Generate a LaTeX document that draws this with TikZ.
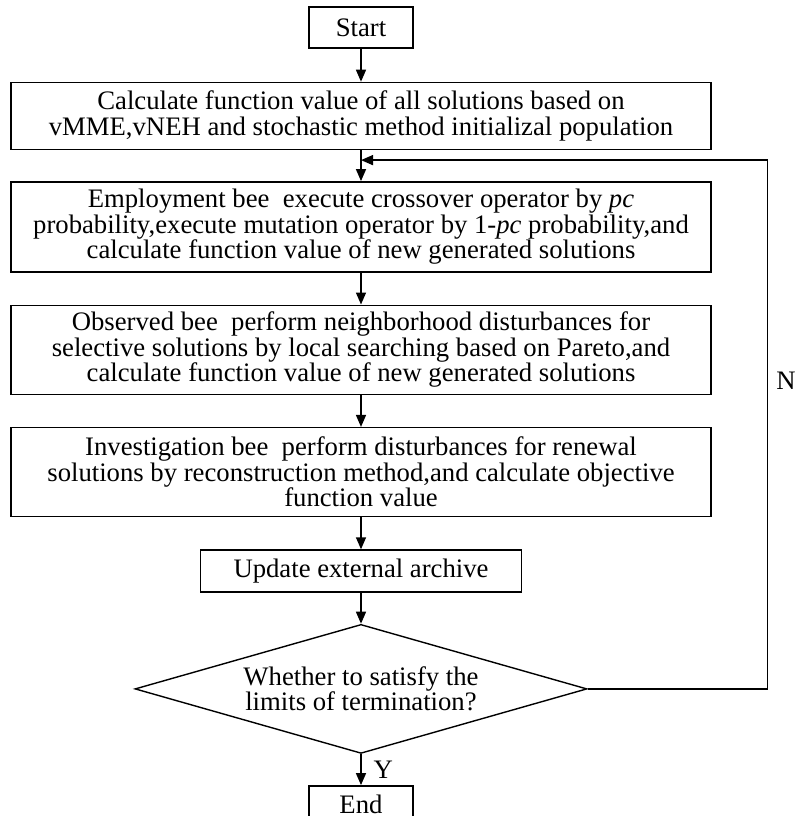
\documentclass[tikz,border=0pt]{standalone}
\usepackage{fontspec}
\setmainfont{Liberation Serif}
\usetikzlibrary{calc,positioning,shapes.geometric,arrows.meta}
\tikzset{
	txt/.style={font=\fontsize{13.35pt}{12.8pt}\selectfont},
	small/.style={draw,rectangle,txt,line width=0.7pt,minimum width=52pt,
		minimum height=20.5pt,inner ysep=1pt},
	wide/.style={small,minimum width=350pt,minimum height=44.5pt,align=center},
	decide/.style={draw,diamond,txt,line width=0.7pt,aspect=3.5,inner sep=0pt,
		minimum width=226pt,minimum height=64.5pt,align=center},
	arr/.style={-{Triangle[length=6pt,width=5pt]},line width=0.7pt}
}
\begin{document}
\begin{tikzpicture}[node distance=16pt]

\useasboundingbox (0,0) rectangle (397.5pt,-408pt);

\node[small] (start) at (180.5pt,-13.75pt) {Start};
\node[wide,minimum height=33.5pt,below=16.5pt of start] (init) {Calculate function value of all solutions based on\\vMME,vNEH and stochastic method initializal population};
\node[wide,minimum height=45pt,below=15.5pt of init] (emp) {Employment bee\ \ execute crossover operator by \textit{pc}\\probability,execute mutation operator by 1-\textit{pc} probability,and\\calculate function value of new generated solutions};
\node[wide,below=of emp] (obs) {Observed bee\ \ perform neighborhood disturbances for\\selective solutions by local searching based on Pareto,and\\calculate function value of new generated solutions};
\node[wide,below=of obs] (inv) {Investigation bee\ \ perform disturbances for renewal\\solutions by reconstruction method,and calculate objective\\function value};
\node[small,minimum width=160.5pt,minimum height=21pt,below=of inv] (upd) {Update external archive};
\node[decide,below=15.5pt of upd] (dec) {Whether to satisfy the\\limits of termination?};
\node[small,minimum height=18.5pt,below=15.5pt of dec] (stop) {End};

\coordinate (join) at ($(init.south)+(0,-5pt)$);
\node[txt,anchor=west,inner sep=0pt] (nlab) at (388pt,-190.25pt) {N};

\draw[arr] (start) -- (init);
\draw[line width=0.7pt] (init) -- (join);
\draw[arr] (join) -- (emp);
\draw[arr] (emp) -- (obs);
\draw[arr] (obs) -- (inv);
\draw[arr] (inv) -- (upd);
\draw[arr] (upd) -- (dec);
\draw[arr] (dec) -- node[right=6pt,inner sep=0pt,txt] (ylab) {Y} (stop);
\draw[arr] (dec.east) -- ++(90pt,0) |- (join);

\end{tikzpicture}
\end{document}
